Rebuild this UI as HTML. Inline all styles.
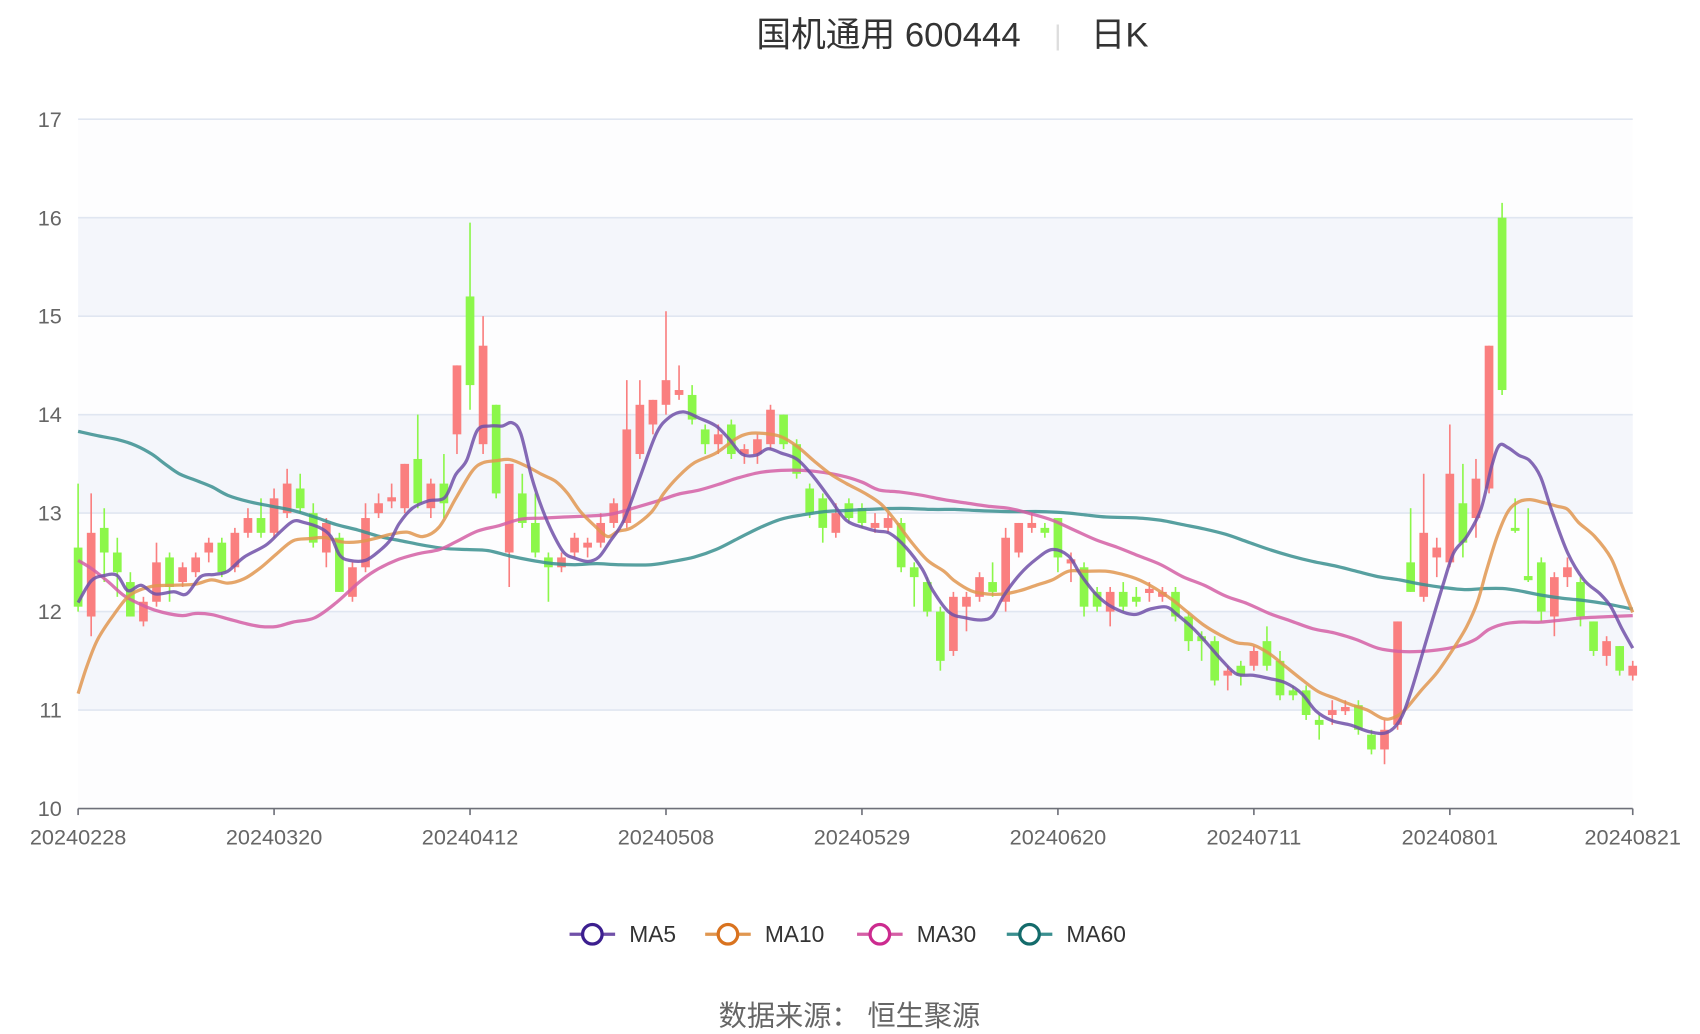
<!DOCTYPE html>
<html><head><meta charset="utf-8"><style>
html,body{margin:0;padding:0;background:#fff;}
svg{display:block;}
text{font-family:"Liberation Sans","Noto Sans CJK SC",sans-serif;}
</style></head><body>
<svg id="c" width="1700" height="1034" viewBox="0 0 1567 954" preserveAspectRatio="none" xmlns="http://www.w3.org/2000/svg">
<rect x="0" y="0" width="1567" height="954" fill="#fff"/>
<g id="bands"></g>
<g id="grid"></g>
<g id="candles"></g>
<g id="lines"></g>
<g id="axis"></g>
<text x="819" y="43" font-size="32" fill="#333" text-anchor="middle">国机通用 600444</text>
<text x="975" y="41" font-size="26" fill="#ddd" text-anchor="middle">|</text>
<text x="1032" y="43" font-size="32" fill="#333" text-anchor="middle">日K</text>
<g id="legend"></g>
<text x="783" y="946" font-size="26" fill="#666" text-anchor="middle">数据来源：  恒生聚源</text>
</svg>
<script>
var NS="http://www.w3.org/2000/svg";
function el(p,t,a){var e=document.createElementNS(NS,t);for(var k in a)e.setAttribute(k,a[k]);document.getElementById(p).appendChild(e);return e;}
function Y(p){return 746-(p-10)*90.86;}
var X0=72,X1=1505;
for(var v=10;v<17;v++){var f=(v==11||v==13||v==15)?"#f4f6fb":"#fdfdfe";el("bands","rect",{x:X0,y:Y(v+1),width:X1-X0,height:90.86,fill:f});}
for(var v=11;v<=17;v++){el("grid","line",{x1:X0,x2:X1,y1:Y(v),y2:Y(v),stroke:"#e0e6f1","stroke-width":1.5});}
for(var v=10;v<=17;v++){var t=el("axis","text",{x:57,y:Y(v)+7,"font-size":20,fill:"#666","text-anchor":"end"});t.textContent=v;}
el("axis","line",{x1:X0,x2:X1,y1:746,y2:746,stroke:"#6e7079","stroke-width":1.5});
var xl=["20240228","20240320","20240412","20240508","20240529","20240620","20240711","20240801","20240821"];
var step=(X1-X0)/119;
for(var i=0;i<9;i++){var idx=i<8?i*15:119;var x=X0+idx*step;el("axis","line",{x1:x,x2:x,y1:746,y2:752,stroke:"#6e7079","stroke-width":1.5});
var t=el("axis","text",{x:x,y:779,"font-size":20,fill:"#666","text-anchor":"middle"});t.textContent=xl[i];}
var C=[[12.65,12.05,13.3,12.0],[11.95,12.8,13.2,11.75],[12.85,12.6,13.05,12.3],[12.6,12.4,12.75,12.15],[12.3,11.95,12.4,11.95],[11.9,12.1,12.15,11.85],[12.1,12.5,12.7,12.05],[12.55,12.25,12.6,12.1],[12.3,12.45,12.5,12.25],[12.4,12.55,12.6,12.35],
[12.6,12.7,12.75,12.5],[12.7,12.4,12.75,12.35],[12.45,12.8,12.85,12.4],[12.8,12.95,13.05,12.75],[12.95,12.8,13.15,12.75],[12.8,13.15,13.25,12.75],[13.0,13.3,13.45,12.95],[13.25,13.05,13.4,13.0],[13.0,12.7,13.1,12.65],[12.6,12.9,12.95,12.45],
[12.75,12.2,12.8,12.2],[12.15,12.45,12.5,12.1],[12.45,12.95,13.1,12.4],[13.0,13.1,13.2,12.95],[13.13,13.15,13.3,13.05],[13.05,13.5,13.5,13.0],[13.55,13.1,14.0,13.05],[13.05,13.3,13.35,12.95],[13.3,13.1,13.6,12.95],[13.8,14.5,14.5,13.6],
[15.2,14.3,15.95,14.05],[13.7,14.7,15.0,13.6],[14.1,13.2,14.1,13.15],[12.6,13.5,13.5,12.25],[13.2,12.9,13.4,12.85],[12.9,12.6,13.2,12.55],[12.55,12.45,12.6,12.1],[12.45,12.55,12.6,12.4],[12.6,12.75,12.8,12.55],[12.65,12.7,12.75,12.55],
[12.7,12.9,13.0,12.65],[12.9,13.1,13.15,12.85],[12.9,13.85,14.35,12.85],[13.6,14.1,14.35,13.55],[13.9,14.15,14.15,13.8],[14.1,14.35,15.05,14.0],[14.2,14.25,14.5,14.15],[14.2,13.95,14.3,13.9],[13.85,13.7,13.9,13.6],[13.7,13.8,13.9,13.6],
[13.9,13.6,13.95,13.55],[13.6,13.65,13.7,13.5],[13.6,13.75,13.8,13.5],[13.7,14.05,14.1,13.65],[14.0,13.7,14.0,13.65],[13.7,13.4,13.75,13.35],[13.25,13.0,13.3,12.95],[13.15,12.85,13.2,12.7],[12.8,13.0,13.1,12.75],[13.1,12.95,13.15,12.9],
[13.05,12.9,13.1,12.85],[12.85,12.9,13.0,12.8],[12.85,12.95,13.0,12.8],[12.9,12.45,12.95,12.4],[12.45,12.35,12.5,12.05],[12.3,12.0,12.35,11.95],[12.0,11.5,12.05,11.4],[11.6,12.15,12.2,11.55],[12.05,12.15,12.2,11.8],[12.15,12.35,12.4,12.1],
[12.3,12.2,12.5,12.15],[12.1,12.75,12.85,12.0],[12.6,12.9,12.9,12.55],[12.85,12.9,13.0,12.8],[12.85,12.8,12.9,12.75],[12.95,12.55,12.95,12.4],[12.5,12.52,12.6,12.3],[12.45,12.05,12.5,11.95],[12.2,12.05,12.25,12.0],[12.0,12.2,12.25,11.85],
[12.2,12.05,12.3,12.0],[12.15,12.1,12.25,12.05],[12.2,12.22,12.3,12.1],[12.15,12.2,12.25,12.1],[12.2,11.95,12.25,11.9],[11.95,11.7,12.0,11.6],[11.75,11.7,11.8,11.5],[11.7,11.3,11.75,11.25],[11.35,11.4,11.45,11.2],[11.45,11.35,11.5,11.25],
[11.45,11.6,11.65,11.4],[11.7,11.45,11.85,11.4],[11.5,11.15,11.6,11.1],[11.2,11.15,11.25,11.1],[11.2,10.95,11.25,10.9],[10.9,10.85,10.95,10.7],[10.95,11.0,11.1,10.85],[11.0,11.02,11.1,10.95],[11.05,10.8,11.1,10.75],[10.75,10.6,10.8,10.55],
[10.6,10.8,10.9,10.45],[10.85,11.9,11.9,10.8],[12.5,12.2,13.05,12.2],[12.15,12.8,13.4,12.1],[12.55,12.65,12.75,12.35],[12.5,13.4,13.9,12.45],[13.1,12.7,13.5,12.55],[12.95,13.35,13.55,12.75],[13.25,14.7,14.7,13.2],[16.0,14.25,16.15,14.2],
[12.85,12.82,13.15,12.8],[12.35,12.33,13.05,12.3],[12.5,12.0,12.55,11.9],[11.95,12.35,12.4,11.75],[12.35,12.45,12.55,12.25],[12.3,11.95,12.35,11.85],[11.9,11.6,11.9,11.55],[11.55,11.7,11.75,11.45],[11.65,11.4,11.65,11.35],[11.35,11.45,11.5,11.3]];
for(var i=0;i<C.length;i++){var c=C[i],x=X0+i*step,up=c[1]>=c[0],col=up?"#fa7f7f":"#8cf74a";
el("candles","line",{x1:x,x2:x,y1:Y(c[2]),y2:Y(c[3]),stroke:col,"stroke-width":1.5});
var t=Y(Math.max(c[0],c[1])),b=Y(Math.min(c[0],c[1]));if(b-t<2){t-=1;b+=1;}
el("candles","rect",{x:x-4,y:t,width:8,height:b-t,fill:col});}
function path(pts){var d="M"+pts[0][0]+","+pts[0][1];for(var i=0;i<pts.length-1;i++){var p0=pts[i-1]||pts[i],p1=pts[i],p2=pts[i+1],p3=pts[i+2]||p2;
d+=" C"+(p1[0]+(p2[0]-p0[0])/6)+","+(p1[1]+(p2[1]-p0[1])/6)+" "+(p2[0]-(p3[0]-p1[0])/6)+","+(p2[1]-(p3[1]-p1[1])/6)+" "+p2[0]+","+p2[1];}return d;}
var MA5=[[72,556],[84,536],[96,531],[108,531],[118,545],[130,540],[143,548],[160,546],[172,548],[185,532],[198,530],[210,527],[225,514],[245,503],[258,491],[270,481],[280,482],[295,487],[305,495],[313,512],[322,517],[337,517],[350,508],[360,498],[368,483],[380,469],[395,462],[410,459],[420,438],[430,425],[440,397],[452,393],[463,393],[472,390],[480,400],[490,440],[500,470],[510,493],[520,510],[530,515],[542,518],[552,514],[562,500],[575,480],[590,440],[605,400],[617,385],[630,380],[645,386],[660,393],[672,405],[684,419],[697,420],[708,414],[720,418],[735,424],[750,440],[765,460],[780,480],[797,487],[808,490],[820,492],[835,505],[850,525],[860,545],[875,565],[890,570],[905,572],[915,568],[925,550],[940,530],[955,516],[970,507],[985,513],[996,530],[1010,548],[1025,560],[1045,567],[1060,562],[1075,560],[1085,567],[1100,580],[1113,594],[1127,610],[1140,622],[1155,623],[1170,626],[1185,630],[1200,640],[1213,656],[1228,665],[1245,669],[1262,675],[1278,676],[1290,665],[1300,640],[1315,590],[1330,540],[1340,510],[1352,495],[1365,470],[1375,430],[1382,411],[1390,413],[1400,420],[1410,425],[1420,440],[1430,470],[1445,510],[1460,535],[1475,548],[1485,560],[1495,580],[1505,598]];
var MA10=[[72,640],[80,615],[90,590],[105,567],[120,549],[140,541],[160,540],[180,539],[195,535],[210,538],[225,534],[240,524],[255,511],[270,499],[285,497],[300,496],[315,500],[330,500],[345,497],[360,493],[375,491],[390,495],[405,486],[420,460],[435,435],[445,427],[458,425],[470,424],[485,430],[500,438],[512,444],[523,455],[535,472],[548,485],[560,495],[570,490],[582,487],[600,473],[612,455],[625,440],[640,427],[660,418],[678,405],[690,400],[705,400],[720,403],[735,412],[750,425],[765,437],[780,446],[797,455],[812,465],[825,480],[840,500],[855,517],[870,527],[880,536],[895,545],[910,548],[925,548],[940,545],[955,540],[970,535],[985,527],[1000,527],[1020,527],[1035,530],[1050,535],[1065,543],[1080,553],[1095,565],[1110,577],[1125,586],[1140,593],[1155,595],[1170,603],[1185,615],[1200,627],[1215,638],[1230,644],[1245,650],[1260,655],[1275,663],[1285,662],[1295,655],[1310,637],[1325,620],[1340,598],[1352,578],[1362,555],[1370,527],[1380,495],[1390,472],[1400,463],[1410,461],[1420,463],[1435,467],[1445,470],[1455,482],[1470,495],[1485,515],[1495,540],[1505,565]];
var MA30=[[72,517],[85,525],[100,537],[115,550],[135,560],[150,565],[168,568],[180,566],[195,567],[210,571],[225,575],[240,578],[255,578],[270,574],[290,570],[310,556],[330,538],[345,527],[365,517],[385,511],[405,507],[420,500],[440,490],[460,485],[480,479],[500,478],[520,477],[545,476],[565,474],[590,467],[610,461],[625,456],[645,452],[665,446],[680,441],[700,436],[720,434],[740,434],[760,436],[780,440],[795,445],[810,452],[830,454],[850,457],[870,461],[890,464],[910,467],[930,469],[950,474],[970,480],[990,489],[1010,498],[1030,505],[1050,513],[1070,521],[1090,532],[1110,540],[1130,550],[1150,557],[1170,566],[1190,573],[1210,580],[1230,584],[1250,590],[1270,598],[1290,601],[1310,601],[1330,599],[1345,596],[1360,590],[1372,581],[1385,576],[1400,574],[1420,574],[1440,572],[1460,570],[1480,569],[1505,568]];
var MA60=[[72,398],[90,402],[110,406],[125,411],[140,419],[152,428],[165,437],[180,443],[195,449],[210,457],[230,463],[250,467],[270,471],[290,477],[310,484],[330,489],[350,495],[370,499],[390,503],[410,506],[430,507],[450,508],[470,513],[490,517],[510,520],[530,521],[550,520],[570,521],[600,521],[620,518],[640,514],[660,507],[680,497],[700,487],[720,479],[740,475],[760,472],[780,471],[800,470],[830,469],[860,470],[880,470],[900,471],[930,472],[960,472],[980,473],[1000,475],[1020,477],[1050,478],[1070,480],[1090,484],[1110,488],[1130,493],[1150,500],[1170,507],[1190,513],[1210,518],[1230,522],[1250,527],[1270,532],[1290,535],[1310,539],[1330,542],[1350,544],[1370,543],[1385,543],[1400,545],[1420,549],[1440,552],[1460,554],[1480,557],[1505,562]];
var L=[[MA60,"#3a8f8f"],[MA30,"#d45fa5"],[MA10,"#e09750"],[MA5,"#7050a8"]];
for(var i=0;i<L.length;i++)el("lines","path",{d:path(L[i][0]),fill:"none",stroke:L[i][1],"stroke-width":3,"stroke-opacity":0.85,"stroke-linejoin":"round"});
var lg=[[525,"MA5","#7050a8","#3c1f8f"],[650,"MA10","#e09750","#d9731f"],[790,"MA30","#d45fa5","#cc2b8f"],[928,"MA60","#3a8f8f","#146b6b"]];
for(var i=0;i<4;i++){var g=lg[i];el("legend","line",{x1:g[0],x2:g[0]+42,y1:862,y2:862,stroke:g[2],"stroke-width":3});
el("legend","circle",{cx:g[0]+21,cy:862,r:9,fill:"#fff",stroke:g[3],"stroke-width":3});
var t=el("legend","text",{x:g[0]+55,y:869,"font-size":21,fill:"#333"});t.textContent=g[1];}
</script>
</body></html>
